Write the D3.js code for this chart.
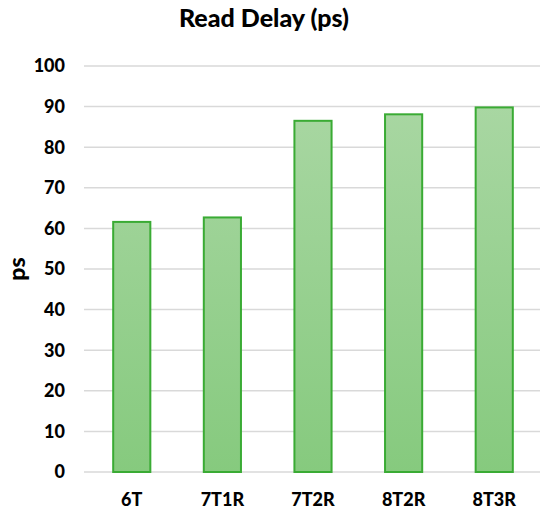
<!DOCTYPE html>
<meta charset="utf-8">
<style>
body { margin: 0; background: #fff; }
text { font-family: Lato, "Open Sans", sans-serif; font-weight: 900; fill: #000; }
.grid line { stroke: #d9d9d9; stroke-width: 1.5; }
</style>
<svg width="550" height="515"></svg>
<script src="https://d3js.org/d3.v7.min.js"></script>
<script>

var categories = ["6T", "7T1R", "7T2R", "8T2R", "8T3R"];
var delays = [61.6, 62.7, 86.5, 88.1, 89.8];
var yTicks = [0, 10, 20, 30, 40, 50, 60, 70, 80, 90, 100];

var svg = d3.select("svg"),
    margin = {top: 66, right: 10, bottom: 43, left: 84},
    width = +svg.attr("width") - margin.left - margin.right,
    height = +svg.attr("height") - margin.top - margin.bottom,
    g = svg.append("g").attr("transform", "translate(" + margin.left + "," + margin.top + ")");

var x = d3.scaleBand()
    .domain(categories)
    .range([2, width])
    .paddingInner(0.59)
    .paddingOuter(0.3);

var y = d3.scaleLinear()
    .domain([0, 100])
    .range([height, 0]);

var defs = svg.append("defs");
var grad = defs.append("linearGradient")
    .attr("id", "barGrad")
    .attr("gradientUnits", "userSpaceOnUse")
    .attr("x1", 0).attr("y1", y(100))
    .attr("x2", 0).attr("y2", y(0));
grad.append("stop").attr("offset", "0%").attr("stop-color", "#acd8a6");
grad.append("stop").attr("offset", "100%").attr("stop-color", "#86ca7e");

// gridlines
g.append("g")
    .attr("class", "grid")
    .selectAll("line")
    .data(yTicks)
    .enter().append("line")
      .attr("x1", 0)
      .attr("x2", width)
      .attr("y1", function(d) { return y(d); })
      .attr("y2", function(d) { return y(d); });

// y tick labels
g.append("g")
    .selectAll("text")
    .data(yTicks)
    .enter().append("text")
      .attr("x", -19)
      .attr("y", function(d) { return y(d); })
      .attr("dy", "0.36em")
      .attr("text-anchor", "end")
      .style("font-size", "18px")
      .text(function(d) { return d; });

// bars
g.selectAll(".bar")
    .data(categories)
    .enter().append("rect")
      .attr("class", "bar")
      .attr("x", function(d) { return x(d); })
      .attr("y", function(d, i) { return y(delays[i]); })
      .attr("width", x.bandwidth())
      .attr("height", function(d, i) { return y(0) - y(delays[i]); })
      .attr("fill", "url(#barGrad)")
      .attr("stroke", "#3aab34")
      .attr("stroke-width", 2);

// x labels
g.append("g")
    .selectAll("text")
    .data(categories)
    .enter().append("text")
      .attr("x", function(d) { return x(d) + x.bandwidth() / 2; })
      .attr("y", height + 34)
      .attr("text-anchor", "middle")
      .style("font-size", "18px")
      .text(function(d) { return d; });

// title
svg.append("text")
    .attr("x", 264)
    .attr("y", 27)
    .attr("text-anchor", "middle")
    .style("font-size", "25px")
    .text("Read Delay (ps)");

// y axis title
svg.append("text")
    .attr("transform", "translate(25," + (margin.top + height / 2) + ") rotate(-90)")
    .attr("text-anchor", "middle")
    .style("font-size", "23px")
    .text("ps");

</script>
